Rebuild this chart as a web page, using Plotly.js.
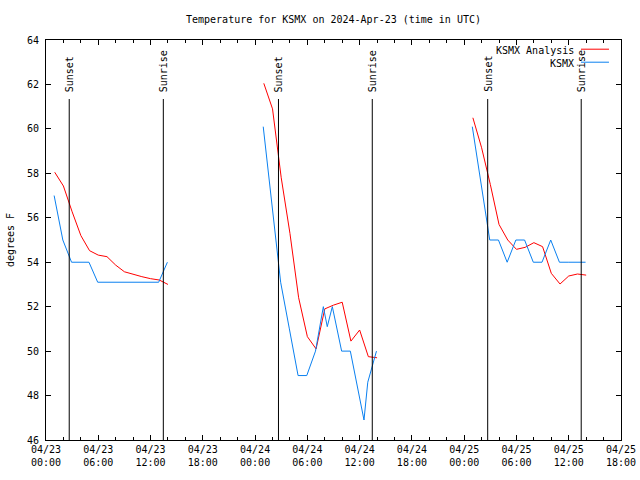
<!DOCTYPE html>
<html>
<head>
<meta charset="utf-8">
<script src="https://cdn.plot.ly/plotly-3.0.1.min.js"></script>
<style>html,body{margin:0;padding:0;background:#fff;}#chart{width:640px;height:480px;}</style>
</head>
<body>
<div id="chart"></div>
<script>
// KSMX Analysis (hourly)
const anaTimes1 = ['2024-04-23 01:00','2024-04-23 02:00','2024-04-23 03:00','2024-04-23 04:00','2024-04-23 05:00','2024-04-23 06:00','2024-04-23 07:00','2024-04-23 08:00','2024-04-23 09:00','2024-04-23 10:00','2024-04-23 11:00','2024-04-23 12:00','2024-04-23 13:00','2024-04-23 14:00'];
const anaVals1 = [58.05, 57.43, 56.27, 55.2, 54.52, 54.32, 54.25, 53.87, 53.57, 53.45, 53.35, 53.26, 53.2, 53.0];
const anaTimes2 = ['2024-04-24 01:00','2024-04-24 02:00','2024-04-24 03:00','2024-04-24 04:00','2024-04-24 05:00','2024-04-24 06:00','2024-04-24 07:00','2024-04-24 08:00','2024-04-24 09:00','2024-04-24 10:00','2024-04-24 11:00','2024-04-24 12:00','2024-04-24 13:00','2024-04-24 14:00'];
const anaVals2 = [62.05, 60.9, 57.8, 55.3, 52.4, 50.65, 50.1, 51.9, 52.07, 52.2, 50.45, 50.95, 49.75, 49.7];
const anaTimes3 = ['2024-04-25 01:00','2024-04-25 02:00','2024-04-25 03:00','2024-04-25 04:00','2024-04-25 05:00','2024-04-25 06:00','2024-04-25 07:00','2024-04-25 08:00','2024-04-25 09:00','2024-04-25 10:00','2024-04-25 11:00','2024-04-25 12:00','2024-04-25 13:00','2024-04-25 14:00'];
const anaVals3 = [60.5, 59.15, 57.5, 55.7, 55.0, 54.58, 54.67, 54.88, 54.7, 53.5, 53.02, 53.38, 53.47, 53.42];

// KSMX observations
const obsTimes1 = ['2024-04-23 00:56','2024-04-23 01:56','2024-04-23 02:56','2024-04-23 03:56','2024-04-23 04:56','2024-04-23 05:56','2024-04-23 06:56','2024-04-23 07:56','2024-04-23 08:56','2024-04-23 09:56','2024-04-23 10:56','2024-04-23 11:56','2024-04-23 12:56','2024-04-23 13:56'];
const obsVals1 = [57.0, 55.0, 54.0, 54.0, 54.0, 53.1, 53.1, 53.1, 53.1, 53.1, 53.1, 53.1, 53.1, 54.0];
const obsTimes2 = ['2024-04-24 00:56','2024-04-24 01:56','2024-04-24 02:36','2024-04-24 02:56','2024-04-24 03:56','2024-04-24 04:56','2024-04-24 05:56','2024-04-24 06:56','2024-04-24 07:50','2024-04-24 08:17','2024-04-24 08:52','2024-04-24 09:56','2024-04-24 10:56','2024-04-24 11:56','2024-04-24 12:30','2024-04-24 12:56','2024-04-24 13:56'];
const obsVals2 = [60.1, 56.5, 54.0, 53.1, 51.0, 48.9, 48.9, 50.0, 52.0, 51.1, 52.0, 50.0, 50.0, 48.0, 46.9, 48.6, 50.0];
const obsTimes3 = ['2024-04-25 00:56','2024-04-25 01:56','2024-04-25 02:56','2024-04-25 03:56','2024-04-25 04:56','2024-04-25 05:56','2024-04-25 06:56','2024-04-25 07:56','2024-04-25 08:56','2024-04-25 09:56','2024-04-25 10:56','2024-04-25 11:56','2024-04-25 12:56','2024-04-25 13:56'];
const obsVals3 = [60.1, 57.6, 55.0, 55.0, 54.0, 55.0, 55.0, 54.0, 54.0, 55.0, 54.0, 54.0, 54.0, 54.0];

// Sunset / sunrise markers
const sunTimes = ['2024-04-23 02:40','2024-04-23 13:28','2024-04-24 02:41','2024-04-24 13:27','2024-04-25 02:42','2024-04-25 13:26'];
const sunLabels = ['Sunset','Sunrise','Sunset','Sunrise','Sunset','Sunrise'];

const seriesNames = ['KSMX Analysis','KSMX'];
const seriesColors = ['#ff0000','#0a80f0'];

const FONT = 'DejaVu Sans Mono, Liberation Mono, monospace';

const traces = [];
[[anaTimes1,anaVals1],[anaTimes2,anaVals2],[anaTimes3,anaVals3]].forEach(function(d){
  traces.push({x:d[0], y:d[1], type:'scatter', mode:'lines', name:seriesNames[0], showlegend:false,
    line:{color:seriesColors[0], width:1}, hoverinfo:'x+y'});
});
[[obsTimes1,obsVals1],[obsTimes2,obsVals2],[obsTimes3,obsVals3]].forEach(function(d){
  traces.push({x:d[0], y:d[1], type:'scatter', mode:'lines', name:seriesNames[1], showlegend:false,
    line:{color:seriesColors[1], width:1}, hoverinfo:'x+y'});
});

const shapes = [];
const annotations = [];
sunTimes.forEach(function(t, i){
  shapes.push({type:'line', xref:'x', yref:'paper', x0:t, x1:t, y0:0, y1:0.8525,
    line:{color:'black', width:1}});
  annotations.push({x:t, xref:'x', y:0.865, yref:'paper', text:sunLabels[i], textangle:-90,
    showarrow:false, xanchor:'center', yanchor:'bottom', font:{family:FONT, size:10, color:'black'}});
});

// legend (text right-justified, sample on the right)
const legY = [0.975, 0.9425];
seriesNames.forEach(function(n, i){
  annotations.push({x:0.9217, xref:'paper', y:legY[i], yref:'paper', text:n, showarrow:false,
    xanchor:'right', yanchor:'middle', font:{family:FONT, size:10, color:'black'}});
  shapes.push({type:'line', xref:'paper', yref:'paper', x0:0.9304, x1:0.9791, y0:legY[i]+0.002, y1:legY[i]+0.002,
    line:{color:seriesColors[i], width:1}});
});

const layout = {
  width:640, height:480,
  margin:{l:46, r:19, t:40, b:40},
  paper_bgcolor:'white', plot_bgcolor:'white',
  font:{family:FONT, size:10, color:'black'},
  title:{text:'Temperature for KSMX on 2024-Apr-23 (time in UTC)', x:0.5, xref:'paper', xanchor:'center',
    y:0.96, yref:'container', yanchor:'middle', font:{family:FONT, size:10, color:'black'}},
  showlegend:false,
  xaxis:{type:'date', range:['2024-04-23 00:00','2024-04-25 18:00'], tick0:'2024-04-23 00:00', dtick:21600000,
    tickformat:'%m/%d<br>%H:%M', ticks:'inside', ticklen:5, tickcolor:'black', tickwidth:1,
    showline:true, linecolor:'black', linewidth:1, mirror:'allticks', showgrid:false, zeroline:false,
    minor:{dtick:7200000, ticks:'inside', ticklen:3, tickcolor:'black', showgrid:false},
    tickfont:{family:FONT, size:10, color:'black'}, fixedrange:true},
  yaxis:{range:[46,64], dtick:2, tick0:46, ticks:'inside', ticklen:5, tickcolor:'black', tickwidth:1,
    showline:true, linecolor:'black', linewidth:1, mirror:'allticks', showgrid:false, zeroline:false,
    ticklabelstandoff:4,
    title:{text:'degrees F', standoff:10, font:{family:FONT, size:10, color:'black'}},
    tickfont:{family:FONT, size:10, color:'black'}, fixedrange:true},
  shapes:shapes,
  annotations:annotations
};

Plotly.newPlot('chart', traces, layout, {staticPlot:true, displayModeBar:false});
</script>
</body>
</html>
